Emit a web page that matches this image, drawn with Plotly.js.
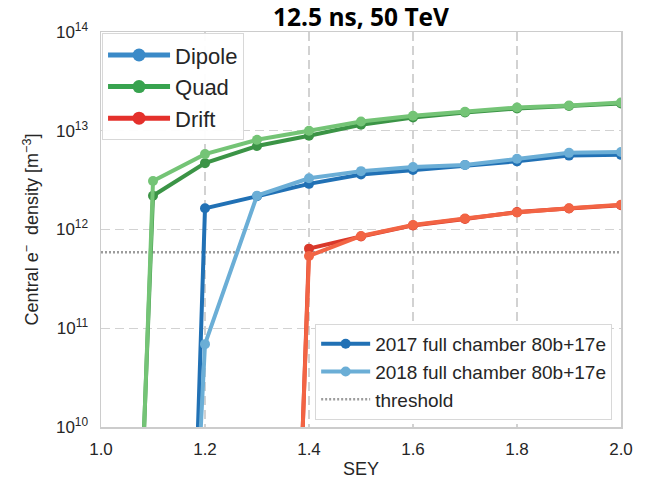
<!DOCTYPE html>
<html>
<head>
<meta charset="utf-8">
<script src="https://cdn.plot.ly/plotly-3.0.1.min.js"></script>
<style>
  html, body { margin: 0; padding: 0; background: #ffffff; }
  #chart { width: 650px; height: 481px; }
</style>
</head>
<body>
<div id="chart"></div>
<script>
// Secondary electron yield scan
const sey = [1.0, 1.1, 1.2, 1.3, 1.4, 1.5, 1.6, 1.7, 1.8, 1.9, 2.0];

// Central electron density [m^-3] per magnet type, 2017 and 2018 chamber models
const quad2017   = [4e-2, 2.2e12, 4.7e12, 7.0e12, 8.9e12, 1.15e13, 1.36e13, 1.53e13, 1.68e13, 1.78e13, 1.89e13];
const quad2018   = [6e-3, 3.1e12, 5.8e12, 8.1e12, 1.0e13, 1.24e13, 1.42e13, 1.56e13, 1.72e13, 1.80e13, 1.93e13];
const dipole2017 = [null, 6e-5, 1.64e12, 2.17e12, 2.9e12, 3.6e12, 4.0e12, 4.5e12, 4.9e12, 5.6e12, 5.7e12];
const dipole2018 = [null, 2.4, 6.9e10, 2.2e12, 3.3e12, 3.9e12, 4.3e12, 4.5e12, 5.2e12, 5.97e12, 6.1e12];
const drift2017  = [null, null, null, 6e-4, 6.4e11, 8.5e11, 1.10e12, 1.28e12, 1.50e12, 1.63e12, 1.76e12];
const drift2018  = [null, null, null, 2e-3, 5.4e11, 8.6e11, 1.11e12, 1.29e12, 1.49e12, 1.64e12, 1.78e12];

const thresholdValue = 5.9e11;

const elementNames = ['Dipole', 'Quad', 'Drift'];
const seriesNames = ['2017 full chamber 80b+17e', '2018 full chamber 80b+17e', 'threshold'];
const yTickVals = [1e10, 1e11, 1e12, 1e13, 1e14];
const yTickText = ['10<sup>10</sup>', '10<sup>11</sup>', '10<sup>12</sup>', '10<sup>13</sup>', '10<sup>14</sup>'];
const xTickVals = [1.0, 1.2, 1.4, 1.6, 1.8, 2.0];
const xTickText = ['1.0', '1.2', '1.4', '1.6', '1.8', '2.0'];

const FONT = 'Liberation Sans, Arial, sans-serif';
const TEXT = '#262626';

const colors = {
  dipoleDark: '#2171b5', dipoleLight: '#6baed6',
  quadDark: '#3b9446',   quadLight: '#74c476',
  driftDark: '#d9382a',  driftLight: '#f26444'
};

function dataTrace(y, color, opts) {
  return Object.assign({
    type: 'scatter', mode: 'lines+markers',
    x: sey, y: y,
    line: { color: color, width: 4 },
    marker: { color: color, size: 10 },
    showlegend: false,
    hoverinfo: 'x+y'
  }, opts || {});
}

const traces = [
  {
    type: 'scatter', mode: 'lines',
    x: [sey[0], sey[sey.length - 1]], y: [thresholdValue, thresholdValue],
    line: { color: '#9c9c9c', width: 2.5, dash: '2px,2px' },
    name: seriesNames[2], legend: 'legend2', legendrank: 3, showlegend: true
  },
  dataTrace(quad2017, colors.quadDark),
  dataTrace(quad2018, colors.quadLight),
  dataTrace(dipole2017, colors.dipoleDark, { name: seriesNames[0], legend: 'legend2', legendrank: 1, showlegend: true }),
  dataTrace(dipole2018, colors.dipoleLight, { name: seriesNames[1], legend: 'legend2', legendrank: 2, showlegend: true }),
  dataTrace(drift2017, colors.driftDark),
  dataTrace(drift2018, colors.driftLight)
];

// Colour key for the element types
const keyColors = ['#3a8ac8', '#38a34f', '#e4302b'];
elementNames.forEach(function (name, i) {
  traces.push({
    type: 'scatter', mode: 'lines+markers',
    x: [null], y: [null],
    name: name, legend: 'legend', legendrank: i + 1, showlegend: true,
    line: { color: keyColors[i], width: 5 },
    marker: { color: keyColors[i], size: 13 }
  });
});

const gridStyle = { showgrid: true, gridcolor: '#d2d2d2', gridwidth: 1.2, griddash: '9px,5px' };

const layout = {
  width: 650, height: 481,
  margin: { l: 101, r: 29, t: 32, b: 54 },
  paper_bgcolor: '#ffffff', plot_bgcolor: '#ffffff',
  font: { family: FONT, color: TEXT, size: 17 },
  title: {
    text: '<b>12.5 ns, 50 TeV</b>',
    font: { family: 'Open Sans, sans-serif', size: 24.5, color: '#000000' },
    x: 0.5, xref: 'paper', xanchor: 'center',
    y: 0.964, yref: 'container', yanchor: 'middle'
  },
  xaxis: Object.assign({
    range: [1.0, 2.0],
    tickvals: xTickVals, ticktext: xTickText,
    ticks: '', ticklabelstandoff: 6,
    showline: true, mirror: true, linecolor: '#cccccc', linewidth: 1.5,
    zeroline: false,
    tickfont: { family: FONT, size: 17, color: TEXT },
    title: { text: 'SEY', font: { family: FONT, size: 18, color: TEXT }, standoff: 4 }
  }, gridStyle),
  yaxis: Object.assign({
    type: 'log', range: [10, 14],
    tickvals: yTickVals, ticktext: yTickText,
    ticks: '', ticklabelstandoff: 8,
    showline: true, mirror: true, linecolor: '#cccccc', linewidth: 1.5,
    zeroline: false,
    tickfont: { family: FONT, size: 17, color: TEXT },
    title: { text: 'Central e<sup>\u2212</sup>  density [m<sup>\u22123</sup>]', font: { family: FONT, size: 18, color: TEXT }, standoff: 12 }
  }, gridStyle),
  legend: {
    x: 0.002, y: 0.997, xanchor: 'left', yanchor: 'top',
    bgcolor: 'rgba(255,255,255,0.95)', bordercolor: '#d8d8d8', borderwidth: 1,
    font: { family: FONT, size: 22, color: TEXT },
    itemwidth: 62, traceorder: 'normal'
  },
  legend2: {
    x: 0.983, y: 0.018, xanchor: 'right', yanchor: 'bottom',
    bgcolor: '#ffffff', bordercolor: '#d8d8d8', borderwidth: 1,
    font: { family: FONT, size: 19, color: TEXT },
    itemwidth: 49, traceorder: 'normal'
  },
  showlegend: true
};

Plotly.newPlot('chart', traces, layout, { displayModeBar: false, staticPlot: true });
</script>
</body>
</html>
